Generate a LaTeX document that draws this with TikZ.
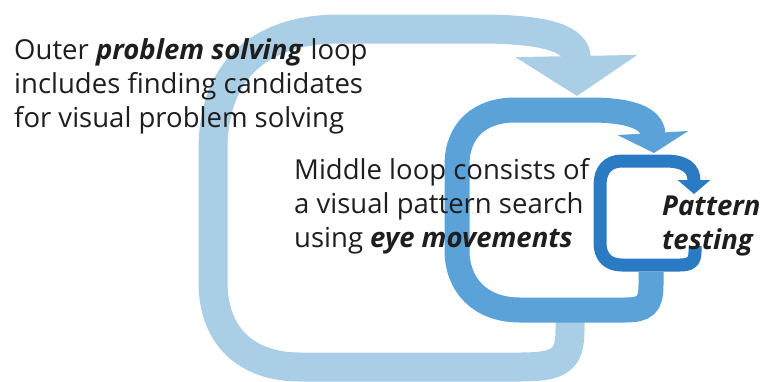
\documentclass[tikz,border=0pt]{standalone}
\usepackage{fontspec}
\setmainfont{Open Sans}
\usetikzlibrary{arrows.meta}
\definecolor{outerblue}{HTML}{A9CEE6}
\definecolor{middleblue}{HTML}{5AA2D8}
\definecolor{innerblue}{HTML}{2B7BC4}
\definecolor{textgray}{HTML}{1E1E1E}

\begin{document}
\begin{tikzpicture}[x=1pt,y=-1pt]
	\tikzstyle{caption}=[font=\fontsize{27.5}{34}\selectfont, text=textgray, align=left, inner sep=0pt, anchor=base west]
	\tikzstyle{outer loop}=[draw=outerblue, line width=29pt, -{Triangle[width=120pt,length=40pt]}]
	\tikzstyle{middle loop}=[draw=middleblue, line width=25pt, -{Triangle[width=70pt,length=20pt]}]
	\tikzstyle{inner loop}=[draw=innerblue, line width=13pt, -{Triangle[width=32pt,length=14pt]}]
	\useasboundingbox (0,0) rectangle (762,381);
	\coordinate (outer tail) at (570,318);
	\coordinate (outer tip) at (577,96);
	\coordinate (middle tail) at (651,272);
	\coordinate (middle tip) at (654,153);
	\coordinate (inner tail) at (695,246);
	\coordinate (inner tip) at (694,194);
	\draw[outer loop] (outer tail) -- (570,330) .. controls (570,360) and (560,367) .. (520,367)
		-- (300,367) .. controls (245,367) and (213,335) .. (213,282)
		-- (213,150) .. controls (213,70) and (260,29) .. (340,29)
		-- (480,29) .. controls (550,29) and (576,40) .. (outer tip);
	\node[caption] (outer text) at (14,127) {Outer \textbf{\textit{problem solving}} loop\\includes finding candidates\\for visual problem solving};
	\draw[middle loop] (middle tail) -- (651,285) .. controls (651,305) and (645,310) .. (625,310)
		-- (520,310) .. controls (480,310) and (457,285) .. (457,250)
		-- (457,165) .. controls (457,130) and (480,110) .. (515,110)
		-- (590,110) .. controls (630,110) and (652,118) .. (middle tip);
	\node[caption] (middle text) at (294,247) {Middle loop consists of\\a visual pattern search\\using \textbf{\textit{eye movements}}};
	\draw[inner loop] (inner tail) -- (695,252) .. controls (695,262) and (690,265) .. (680,265)
		-- (622,265) .. controls (608,265) and (600,257) .. (600,243)
		-- (600,185) .. controls (600,170) and (608,161) .. (622,161)
		-- (665,161) .. controls (685,161) and (694,168) .. (inner tip);
	\node[caption] (pattern text) at (662,249) {\textbf{\textit{Pattern}}\\\textbf{\textit{testing}}};
\end{tikzpicture}
\end{document}
